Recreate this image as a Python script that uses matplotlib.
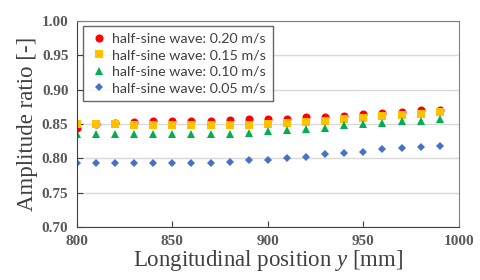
import matplotlib
matplotlib.use("Agg")
import matplotlib.pyplot as plt
from matplotlib.ticker import MultipleLocator, FormatStrFormatter

plt.rcParams["mathtext.fontset"] = "custom"
plt.rcParams["mathtext.it"] = "Liberation Serif:italic"
plt.rcParams["mathtext.rm"] = "Liberation Serif"

# longitudinal positions [mm]
pos_y = [800, 810, 820, 830, 840, 850, 860, 870, 880, 890,
         900, 910, 920, 930, 940, 950, 960, 970, 980, 990]

# amplitude ratio for each half-sine wave speed
amp_020 = [0.844, 0.850, 0.852, 0.853, 0.854, 0.854, 0.855, 0.855, 0.856, 0.857,
           0.858, 0.858, 0.860, 0.860, 0.862, 0.864, 0.866, 0.868, 0.870, 0.871]
amp_015 = [0.850, 0.850, 0.850, 0.849, 0.848, 0.848, 0.848, 0.848, 0.848, 0.849,
           0.850, 0.851, 0.853, 0.855, 0.857, 0.859, 0.861, 0.863, 0.865, 0.867]
amp_010 = [0.835, 0.835, 0.835, 0.835, 0.835, 0.835, 0.835, 0.835, 0.836, 0.837,
           0.840, 0.841, 0.843, 0.844, 0.848, 0.850, 0.851, 0.854, 0.855, 0.857]
amp_005 = [0.793, 0.793, 0.793, 0.793, 0.793, 0.793, 0.794, 0.794, 0.795, 0.797,
           0.798, 0.800, 0.802, 0.806, 0.808, 0.810, 0.813, 0.815, 0.817, 0.818]

labels = ["half-sine wave: 0.20 m/s", "half-sine wave: 0.15 m/s",
          "half-sine wave: 0.10 m/s", "half-sine wave: 0.05 m/s"]

fig = plt.figure(figsize=(4.8, 2.8), dpi=100)
ax = fig.add_axes([0.160, 0.189, 0.796, 0.736])

ax.plot(pos_y, amp_020, "o", color="#FF0000", ms=5.8, mew=0, label=labels[0])
ax.plot(pos_y, amp_015, "s", color="#FFC000", ms=6.3, mew=0, label=labels[1])
ax.plot(pos_y, amp_010, "^", color="#00B050", ms=5.5, mew=0, label=labels[2])
ax.plot(pos_y, amp_005, "D", color="#4472C4", ms=3.8, mew=0, label=labels[3])

ax.set_xlim(800, 1000)
ax.set_ylim(0.70, 1.00)
ax.xaxis.set_major_locator(MultipleLocator(50))
ax.yaxis.set_major_locator(MultipleLocator(0.05))
ax.yaxis.set_major_formatter(FormatStrFormatter("%.2f"))
ax.grid(axis="y", color="#d9d9d9", lw=1)
ax.set_axisbelow(True)

for sp in ax.spines.values():
    sp.set_color("#808080")
ax.spines["left"].set_color("#404040")
ax.spines["bottom"].set_color("#404040")

ax.tick_params(direction="in", length=4, color="#404040", pad=6)
for t in ax.get_xticklabels() + ax.get_yticklabels():
    t.set_fontfamily("Liberation Serif")
    t.set_fontweight("bold")
    t.set_fontsize(11)
    t.set_color("#595959")

ax.set_xlabel("Longitudinal position $\\mathit{y}$ [mm]", family="Liberation Serif",
              fontsize=16.5, color="#404040", labelpad=0)
ax.set_ylabel("Amplitude ratio [-]", family="Liberation Serif",
              fontsize=16.5, color="#404040", labelpad=3)

leg = ax.legend(loc="upper left", bbox_to_anchor=(0.016, 0.975), frameon=True,
                fancybox=False, prop={"family": "Lato", "size": 10.3},
                handletextpad=0.3, borderpad=0.45, labelspacing=0.32,
                handlelength=1.3, borderaxespad=0)
leg.get_frame().set_edgecolor("#404040")
leg.get_frame().set_linewidth(1.0)
for t in leg.get_texts():
    t.set_color("#404040")

fig.savefig("out.png", dpi=100)
